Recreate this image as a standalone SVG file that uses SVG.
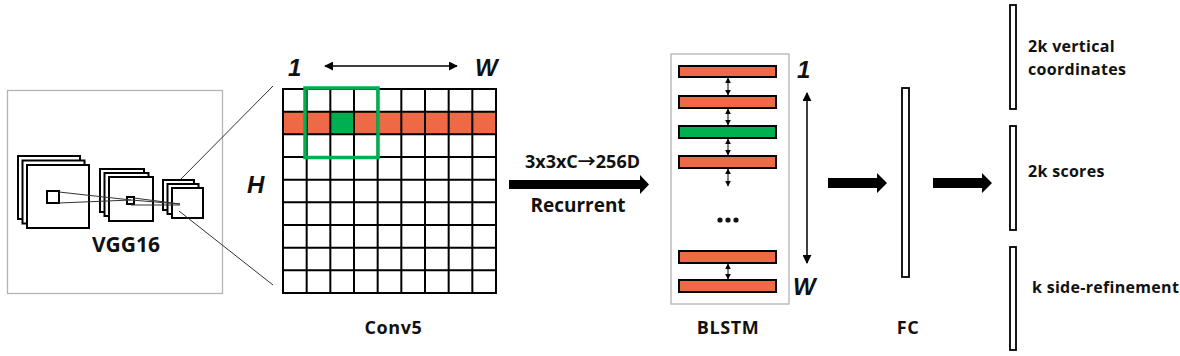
<svg xmlns="http://www.w3.org/2000/svg" width="1180" height="356" viewBox="0 0 1180 356">
<defs>
<style>
.lbl{font-family:"Open Sans","Noto Sans",sans-serif;font-weight:bold;fill:#111}
.out{font-size:16px;letter-spacing:0.3px}
.ital{font-family:"Liberation Sans",Arial,sans-serif;font-weight:bold;font-style:italic;fill:#111;font-size:24px}
.sq{fill:#fff;stroke:#000;stroke-width:2}
.frame{fill:#fff;stroke:#b3b3b3;stroke-width:1.3}
.bar{fill:#ee6a46;stroke:#000;stroke-width:2}
.gbar{fill:#00b050;stroke:#000;stroke-width:2}
.vbar{fill:#fff;stroke:#000;stroke-width:1.8}
.thin{stroke:#333;stroke-width:1;fill:none}
</style>
<marker id="ah" viewBox="0 0 10 10" refX="9" refY="5" markerWidth="9" markerHeight="9" markerUnits="userSpaceOnUse" orient="auto-start-reverse"><path d="M0,0L10,5L0,10z" fill="#000"/></marker>
<marker id="ahs" viewBox="0 0 10 10" refX="9" refY="5" markerWidth="6" markerHeight="7" markerUnits="userSpaceOnUse" orient="auto-start-reverse"><path d="M0,0L10,5L0,10z" fill="#000"/></marker>
</defs>
<rect width="1180" height="356" fill="#fff"/>

<g id="vgg16">
<rect class="frame" x="7.5" y="90.5" width="215" height="203"/>
<rect class="sq" x="18" y="156" width="62" height="63"/>
<rect class="sq" x="22.5" y="160.5" width="62" height="63"/>
<rect class="sq" x="27" y="165" width="62" height="63"/>
<rect class="sq" x="47" y="191" width="12" height="12"/>
<rect class="sq" x="100" y="169" width="44" height="43"/>
<rect class="sq" x="104.5" y="173" width="44" height="43"/>
<rect class="sq" x="109" y="177" width="44" height="44"/>
<rect class="sq" x="127" y="197" width="7" height="7"/>
<rect class="sq" x="163" y="180" width="31" height="30"/>
<rect class="sq" x="167.5" y="184" width="31" height="30"/>
<rect class="sq" x="172" y="188" width="31" height="30"/>
<text class="lbl" x="126" y="252" font-size="21" text-anchor="middle">VGG16</text>
</g>

<g id="conv5">
<rect x="283" y="111.67" width="213" height="22.67" fill="#ee6a46"/>
<rect x="330.33" y="111.67" width="23.67" height="22.67" fill="#00b050"/>
<path d="M283,89V293M306.67,89V293M330.33,89V293M354,89V293M377.67,89V293M401.33,89V293M425,89V293M448.67,89V293M472.33,89V293M496,89V293M282,89H497M282,111.67H497M282,134.33H497M282,157H497M282,179.67H497M282,202.33H497M282,225H497M282,247.67H497M282,270.33H497M282,293H497" stroke="#000" stroke-width="2" fill="none"/>
<rect x="305" y="88" width="73" height="69.5" fill="none" stroke="#00b050" stroke-width="3.5"/>
<text class="ital" x="288" y="76">1</text>
<text class="ital" x="475" y="76">W</text>
<text class="ital" x="247" y="193">H</text>
<text class="lbl" x="393.5" y="334" font-size="18" letter-spacing="0.6" text-anchor="middle">Conv5</text>
</g>

<g id="blstm">
<rect class="frame" x="671" y="54" width="118" height="250"/>
<rect class="bar" x="679" y="66" width="97" height="11"/>
<rect class="bar" x="679" y="96" width="97" height="12"/>
<rect class="gbar" x="679" y="126" width="97" height="12"/>
<rect class="bar" x="679" y="156" width="97" height="12"/>
<rect class="bar" x="679" y="251" width="97" height="12"/>
<rect class="bar" x="679" y="280" width="97" height="12"/>
<circle cx="720" cy="220" r="2.6" fill="#111"/>
<circle cx="728" cy="220" r="2.6" fill="#111"/>
<circle cx="736" cy="220" r="2.6" fill="#111"/>
<text class="ital" x="797" y="78">1</text>
<text class="ital" x="793" y="295">W</text>
<text class="lbl" x="728" y="334" font-size="18" letter-spacing="0.6" text-anchor="middle">BLSTM</text>
</g>

<g id="fc">
<rect class="vbar" x="902" y="88" width="7" height="189"/>
<text class="lbl" x="908" y="334" font-size="18" letter-spacing="0.6" text-anchor="middle">FC</text>
</g>

<g id="out-vertical">
<rect class="vbar" x="1010" y="5" width="6" height="104"/>
<text class="lbl out" x="1028" y="52">2k vertical</text>
<text class="lbl out" x="1028" y="75">coordinates</text>
</g>
<g id="out-scores">
<rect class="vbar" x="1010" y="126" width="6" height="104"/>
<text class="lbl out" x="1028" y="177">2k scores</text>
</g>
<g id="out-side">
<rect class="vbar" x="1010" y="247" width="6" height="103"/>
<text class="lbl out" x="1032" y="293">k side-refinement</text>
</g>

<g id="connectors">
<path class="thin" d="M59,192L131,200L180,204M59,203L131,200M134,198L180,204M131,205L180,205"/>
<path class="thin" d="M181,179L273,86M179,211L273,285"/>
<line x1="325" y1="66" x2="457" y2="66" stroke="#000" stroke-width="1.5" marker-start="url(#ah)" marker-end="url(#ah)"/>
<line x1="807" y1="93" x2="807" y2="263" stroke="#000" stroke-width="1.5" marker-start="url(#ah)" marker-end="url(#ah)"/>
<g stroke="#000" stroke-width="1" marker-start="url(#ahs)" marker-end="url(#ahs)">
<line x1="728" y1="78" x2="728" y2="95"/>
<line x1="728" y1="109" x2="728" y2="125"/>
<line x1="728" y1="139" x2="728" y2="155"/>
<line x1="728" y1="169" x2="728" y2="186"/>
<line x1="728" y1="264" x2="728" y2="279"/>
</g>
<path d="M509,180H640V175L649,184.5L640,194V189H509Z" fill="#000"/>
<text class="lbl" x="582.5" y="168" font-size="18" text-anchor="middle">3x3xC<tspan font-family="'Noto Sans CJK JP',sans-serif">→</tspan>256D</text>
<text class="lbl" x="578" y="212" font-size="19" text-anchor="middle">Recurrent</text>
<path d="M828,178H877V173L887,183L877,193V188H828Z" fill="#000"/>
<path d="M933,178H982V173L992,183L982,193V188H933Z" fill="#000"/>
</g>
</svg>
